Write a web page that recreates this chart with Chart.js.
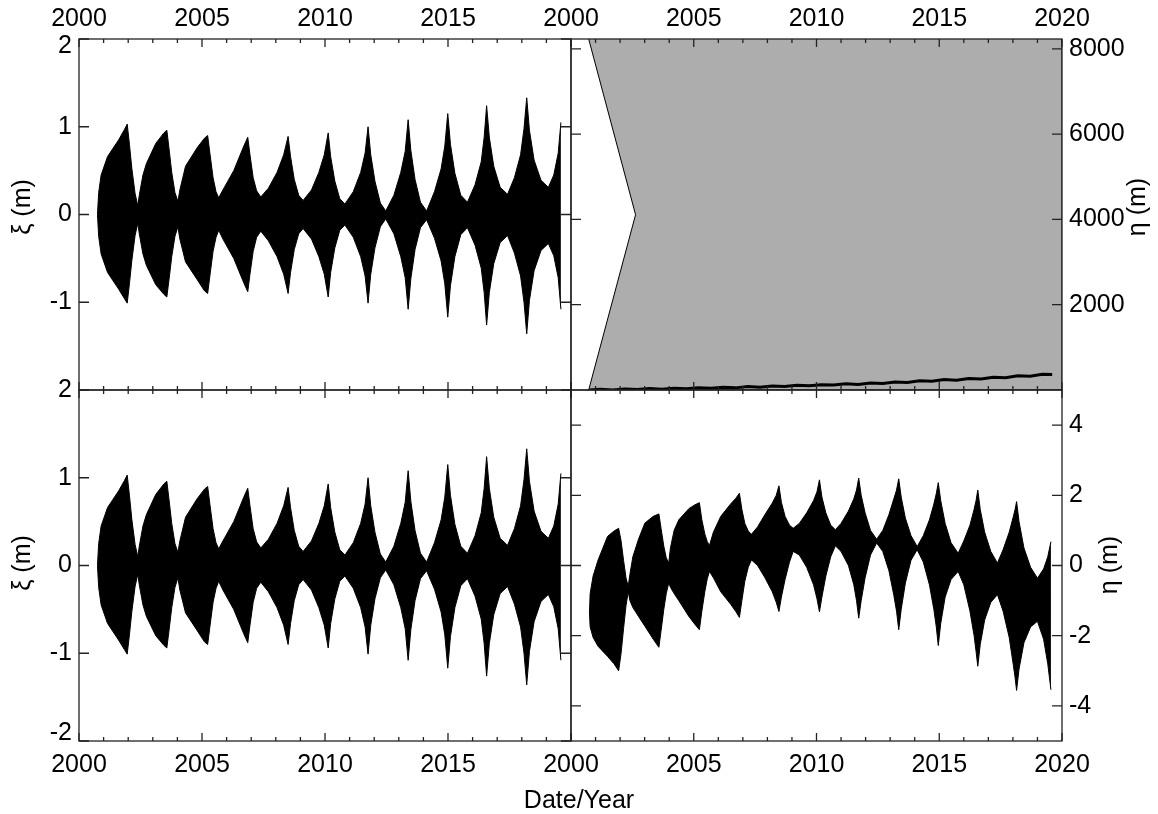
<!DOCTYPE html>
<html>
<head>
<meta charset="utf-8">
<script src="https://cdn.jsdelivr.net/npm/chart.js@4.4.1/dist/chart.umd.min.js"></script>
<style>
  body { margin: 0; background: #fff; }
  #wrap { position: relative; width: 1158px; height: 814px; }
  #wrap canvas { position: absolute; left: 0; top: 0; }
</style>
</head>
<body>
<div id="wrap">
  <canvas id="tl" width="1158" height="814"></canvas>
  <canvas id="tr" width="1158" height="814"></canvas>
  <canvas id="bl" width="1158" height="814"></canvas>
  <canvas id="br" width="1158" height="814"></canvas>
</div>
<script>
// tick labels
var xTicksLeft = [2000, 2005, 2010, 2015];
var xTicksRight = [2000, 2005, 2010, 2015, 2020];
var yTicksXiTop = [2, 1, 0, -1];
var yTicksXiBottom = [2, 1, 0, -1, -2];
var yTicksEtaTop = [8000, 6000, 4000, 2000];
var yTicksEtaBottom = [4, 2, 0, -2, -4];

// xi (m): upper / lower envelope of the fast oscillation, one cycle per row
var xiYears = [
  2000.75, 2000.80, 2000.90, 2001.16, 2001.61, 2001.85, 2001.96, 2002.05, 2002.15, 2002.28, 2002.39,
  2002.45, 2002.60, 2002.74, 2003.12, 2003.45, 2003.57, 2003.66, 2003.77, 2003.90, 2004.02,
  2004.10, 2004.33, 2004.80, 2005.10, 2005.23, 2005.32, 2005.45, 2005.57, 2005.68,
  2005.85, 2006.29, 2006.70, 2006.86, 2006.95, 2007.08, 2007.22, 2007.39,
  2007.70, 2008.05, 2008.32, 2008.50, 2008.60, 2008.75, 2008.93, 2009.11,
  2009.45, 2009.75, 2009.97, 2010.13, 2010.23, 2010.40, 2010.60, 2010.81,
  2011.15, 2011.45, 2011.63, 2011.75, 2011.86, 2012.03, 2012.25, 2012.47,
  2012.80, 2013.08, 2013.26, 2013.38, 2013.49, 2013.66, 2013.88, 2014.13,
  2014.45, 2014.72, 2014.87, 2014.99, 2015.10, 2015.28, 2015.52, 2015.79,
  2016.10, 2016.35, 2016.47, 2016.57, 2016.68, 2016.86, 2017.12, 2017.42,
  2017.70, 2017.95, 2018.09, 2018.20, 2018.31, 2018.50, 2018.78, 2019.08,
  2019.30, 2019.48, 2019.59];
var xiUpper = [
  0, 0.25, 0.45, 0.66, 0.85, 0.97, 1.03, 0.80, 0.52, 0.24, 0.10,
  0.22, 0.45, 0.58, 0.81, 0.93, 0.96, 0.75, 0.48, 0.25, 0.15,
  0.28, 0.55, 0.76, 0.87, 0.90, 0.70, 0.42, 0.26, 0.19,
  0.28, 0.50, 0.78, 0.88, 0.68, 0.42, 0.27, 0.20,
  0.30, 0.48, 0.68, 0.89, 0.66, 0.40, 0.22, 0.16,
  0.28, 0.48, 0.68, 0.93, 0.66, 0.38, 0.18, 0.12,
  0.26, 0.48, 0.70, 1.00, 0.68, 0.38, 0.13, 0.04,
  0.22, 0.48, 0.72, 1.08, 0.73, 0.40, 0.14, 0.04,
  0.26, 0.52, 0.78, 1.15, 0.80, 0.47, 0.22, 0.14,
  0.34, 0.60, 0.88, 1.24, 0.88, 0.55, 0.31, 0.23,
  0.42, 0.68, 0.98, 1.33, 0.96, 0.62, 0.39, 0.31,
  0.45, 0.70, 1.05];
var xiLower = [
  0, -0.25, -0.45, -0.66, -0.85, -0.96, -1.01, -0.79, -0.52, -0.24, -0.10,
  -0.22, -0.45, -0.58, -0.80, -0.91, -0.94, -0.74, -0.48, -0.25, -0.14,
  -0.28, -0.54, -0.74, -0.87, -0.90, -0.70, -0.42, -0.26, -0.18,
  -0.28, -0.50, -0.78, -0.88, -0.68, -0.42, -0.26, -0.19,
  -0.30, -0.48, -0.68, -0.90, -0.66, -0.40, -0.22, -0.16,
  -0.28, -0.48, -0.68, -0.94, -0.66, -0.38, -0.18, -0.12,
  -0.26, -0.48, -0.70, -1.01, -0.68, -0.38, -0.14, -0.05,
  -0.22, -0.48, -0.72, -1.08, -0.73, -0.40, -0.15, -0.06,
  -0.27, -0.53, -0.79, -1.17, -0.81, -0.48, -0.23, -0.15,
  -0.35, -0.61, -0.89, -1.26, -0.89, -0.56, -0.32, -0.24,
  -0.44, -0.70, -1.00, -1.36, -0.98, -0.64, -0.41, -0.33,
  -0.47, -0.72, -1.08];

// eta (m), lower right panel
var etaYears = [
  2000.75,
  2000.78, 2000.90, 2001.10, 2001.49, 2001.75, 2001.94, 2002.04, 2002.14, 2002.24, 2002.33,
  2002.40, 2002.52, 2002.75, 2003.01, 2003.35, 2003.58, 2003.67, 2003.78, 2003.88, 2003.98,
  2004.05, 2004.20, 2004.39, 2004.80, 2005.05, 2005.23, 2005.33, 2005.45, 2005.55, 2005.64,
  2005.80, 2006.10, 2006.50, 2006.72, 2006.86, 2006.96, 2007.08, 2007.22, 2007.35,
  2007.60, 2007.90, 2008.20, 2008.36, 2008.47, 2008.57, 2008.72, 2008.90, 2009.05,
  2009.30, 2009.60, 2009.88, 2010.02, 2010.12, 2010.22, 2010.38, 2010.58, 2010.77,
  2011.00, 2011.30, 2011.52, 2011.63, 2011.72, 2011.82, 2011.98, 2012.20, 2012.45,
  2012.70, 2012.95, 2013.15, 2013.26, 2013.35, 2013.45, 2013.62, 2013.85, 2014.10,
  2014.35, 2014.60, 2014.78, 2014.88, 2014.96, 2015.06, 2015.24, 2015.48, 2015.77,
  2016.00, 2016.25, 2016.42, 2016.50, 2016.57, 2016.67, 2016.85, 2017.10, 2017.37,
  2017.60, 2017.85, 2018.02, 2018.09, 2018.15, 2018.25, 2018.45, 2018.72, 2019.00,
  2019.25, 2019.42, 2019.55];
var etaUpper = [
  -1.35,
  -0.80, -0.30, 0.15, 0.83, 0.98, 1.06, 0.70, 0.15, -0.35, -0.60,
  -0.25, 0.25, 0.75, 1.21, 1.40, 1.47, 1.05, 0.55, 0.22, 0.07,
  0.50, 1.00, 1.30, 1.62, 1.73, 1.79, 1.30, 0.90, 0.68, 0.57,
  0.95, 1.40, 1.75, 1.92, 2.06, 1.60, 1.20, 0.98, 0.89,
  1.10, 1.45, 1.78, 2.00, 2.27, 1.80, 1.40, 1.15, 1.06,
  1.20, 1.50, 1.85, 2.10, 2.44, 1.95, 1.50, 1.15, 1.02,
  1.20, 1.55, 1.90, 2.15, 2.49, 2.00, 1.50, 1.00, 0.75,
  1.00, 1.45, 1.90, 2.15, 2.47, 1.95, 1.35, 0.85, 0.54,
  0.85, 1.30, 1.75, 2.05, 2.36, 1.85, 1.20, 0.65, 0.35,
  0.70, 1.15, 1.60, 1.85, 2.15, 1.60, 0.95, 0.40, 0.07,
  0.45, 0.95, 1.40, 1.60, 1.82, 1.25, 0.50, -0.05, -0.36,
  -0.10, 0.25, 0.68];
var etaLower = [
  -1.35,
  -1.75, -2.05, -2.30, -2.59, -2.80, -3.00, -2.50, -1.80, -1.15, -0.75,
  -1.00, -1.20, -1.45, -1.73, -2.10, -2.33, -1.85, -1.25, -0.80, -0.50,
  -0.62, -0.80, -1.00, -1.45, -1.68, -1.83, -1.30, -0.75, -0.38, -0.17,
  -0.35, -0.75, -1.10, -1.32, -1.48, -1.00, -0.45, -0.05, 0.16,
  0.00, -0.35, -0.75, -1.05, -1.31, -0.90, -0.40, 0.10, 0.40,
  0.30, -0.05, -0.55, -0.95, -1.32, -0.90, -0.30, 0.25, 0.56,
  0.40, 0.00, -0.55, -1.00, -1.50, -1.00, -0.35, 0.30, 0.64,
  0.40, -0.15, -0.85, -1.30, -1.83, -1.25, -0.50, 0.15, 0.45,
  0.10, -0.55, -1.25, -1.75, -2.28, -1.65, -0.90, -0.40, -0.17,
  -0.55, -1.30, -2.00, -2.45, -2.87, -2.25, -1.55, -1.05, -0.83,
  -1.30, -2.05, -2.85, -3.20, -3.56, -2.95, -2.20, -1.75, -1.59,
  -2.10, -2.80, -3.54];

// eta (m), upper right panel: grey region and the slowly growing noisy trace
var shadeYears = [2000.72, 2002.63, 2000.72, 2020, 2020];
var shadeValues = [8230, 4110, 0, 0, 8230];
var driftYears = [2000.75, 2001.2, 2001.7, 2002.2, 2002.7, 2003.2, 2003.7, 2004.2, 2004.7, 2005.2,
                  2005.7, 2006.2, 2006.7, 2007.2, 2007.7, 2008.2, 2008.7, 2009.2, 2009.7, 2010.2,
                  2010.7, 2011.2, 2011.7, 2012.2, 2012.7, 2013.2, 2013.7, 2014.2, 2014.7, 2015.2,
                  2015.7, 2016.2, 2016.7, 2017.2, 2017.7, 2018.2, 2018.7, 2019.2, 2019.6];
var driftValues = [0, 20, 0, 25, 10, 35, 15, 40, 30, 55,
                   40, 65, 50, 80, 65, 95, 80, 110, 100, 125,
                   115, 145, 130, 165, 155, 190, 175, 215, 205, 245,
                   230, 270, 260, 300, 290, 335, 325, 370, 365];

var FONT = "'Liberation Sans', Arial, Helvetica, sans-serif";

function toPoints(xs, ys) {
  return xs.map(function(x, i) { return {x: x, y: ys[i]}; });
}

// IDL style box: inward ticks on all four sides, rotated axis title
var idlFrame = {
  id: 'idlFrame',
  afterDatasetsDraw: function(chart, args, o) {
    var ctx = chart.ctx, a = chart.chartArea, x = chart.scales.x, y = chart.scales.y;
    ctx.save();
    ctx.strokeStyle = '#222';
    ctx.lineWidth = 1.3;
    ctx.beginPath();
    for (var yr = x.min; yr <= x.max; yr++) {
      var px = x.getPixelForValue(yr);
      var len = (yr % 5 === 0) ? 8 : 4;
      ctx.moveTo(px, a.top); ctx.lineTo(px, a.top + len);
      ctx.moveTo(px, a.bottom); ctx.lineTo(px, a.bottom - len);
    }
    y.ticks.forEach(function(t) {
      var py = y.getPixelForValue(t.value);
      ctx.moveTo(a.left, py); ctx.lineTo(a.left + 10, py);
      ctx.moveTo(a.right, py); ctx.lineTo(a.right - 10, py);
    });
    ctx.stroke();
    ctx.strokeRect(a.left, a.top, a.right - a.left, a.bottom - a.top);

    ctx.fillStyle = '#000';
    ctx.font = '25px ' + FONT;
    ctx.textAlign = 'center';
    ctx.textBaseline = 'middle';
    if (o.caption) {
      ctx.fillText(o.caption, o.captionX, o.captionY);
    }
    ctx.translate(o.titleX, o.titleY);
    ctx.rotate(-Math.PI / 2);
    ctx.fillText(o.title, 0, 0);
    ctx.restore();
  }
};

function xScale(pos, labels, size) {
  return {
    type: 'linear', position: pos, min: 2000, max: 2020,
    grid: {display: false, drawTicks: false}, border: {display: false},
    afterBuildTicks: function(s) { s.ticks = labels.map(function(v) { return {value: v}; }); },
    afterFit: function(s) { s.height = size; },
    ticks: {
      autoSkip: false, minRotation: 0, maxRotation: 0,
      padding: pos === 'top' ? 5 : 9, color: '#000',
      font: {family: FONT, size: 25},
      callback: function(v) { return String(v); }
    }
  };
}

// labels sitting on the box edge are nudged inside, as in the original plot
function yScale(pos, min, max, labels, size, nudgeTop, nudgeBottom) {
  return {
    type: 'linear', position: pos, min: min, max: max,
    grid: {display: false, drawTicks: false}, border: {display: false},
    afterBuildTicks: function(s) { s.ticks = labels.map(function(v) { return {value: v}; }); },
    afterFit: function(s) { s.width = size; },
    ticks: {
      autoSkip: false, padding: 7, color: '#000',
      font: {family: FONT, size: 25, lineHeight: 0.6},
      callback: function(v) {
        if (nudgeTop && v === max) return ['', String(v)];
        if (nudgeBottom && v === min) return [String(v), ''];
        return String(v);
      }
    }
  };
}

function band(xs, up, lo) {
  return [
    {data: toPoints(xs, up), borderColor: '#000', backgroundColor: '#000', borderWidth: 1, fill: '+1'},
    {data: toPoints(xs, lo), borderColor: '#000', backgroundColor: '#000', borderWidth: 1, fill: false}
  ];
}

function panel(id, pad, xs, ys, datasets, frame) {
  return new Chart(document.getElementById(id), {
    type: 'line',
    data: {datasets: datasets},
    options: {
      responsive: false,
      animation: false,
      events: [],
      layout: {padding: pad},
      elements: {point: {radius: 0}, line: {tension: 0}},
      plugins: {legend: {display: false}, tooltip: {enabled: false}, idlFrame: frame},
      scales: {x: xs, y: ys}
    },
    plugins: [idlFrame]
  });
}

// top left: xi
panel('tl', {left: 0, top: 0, right: 587, bottom: 424},
  xScale('top', xTicksLeft, 39),
  yScale('left', -2, 2, yTicksXiTop, 79, true, false),
  band(xiYears, xiUpper, xiLower),
  {title: 'ξ (m)', titleX: 23, titleY: 207});

// top right: eta, large scale
panel('tr', {left: 571, top: 0, right: 0, bottom: 424},
  xScale('top', xTicksRight, 39),
  yScale('right', 0, 8230, yTicksEtaTop, 96, false, false),
  [
    {data: toPoints(driftYears, driftValues), borderColor: '#000', borderWidth: 3, fill: false},
    {data: toPoints(shadeYears, shadeValues), borderColor: '#000', borderWidth: 1,
     backgroundColor: '#adadad', fill: 'shape'}
  ],
  {title: 'η (m)', titleX: 1138, titleY: 207});

// bottom left: xi
panel('bl', {left: 0, top: 390, right: 587, bottom: 0},
  xScale('bottom', xTicksLeft, 73),
  yScale('left', -2, 2, yTicksXiBottom, 79, false, true),
  band(xiYears, xiUpper, xiLower),
  {title: 'ξ (m)', titleX: 23, titleY: 563});

// bottom right: eta
panel('br', {left: 571, top: 390, right: 0, bottom: 0},
  xScale('bottom', xTicksRight, 73),
  yScale('right', -5, 5, yTicksEtaBottom, 96, false, false),
  band(etaYears, etaUpper, etaLower),
  {title: 'η (m)', titleX: 1110, titleY: 565, caption: 'Date/Year', captionX: 579, captionY: 801});
</script>
</body>
</html>
